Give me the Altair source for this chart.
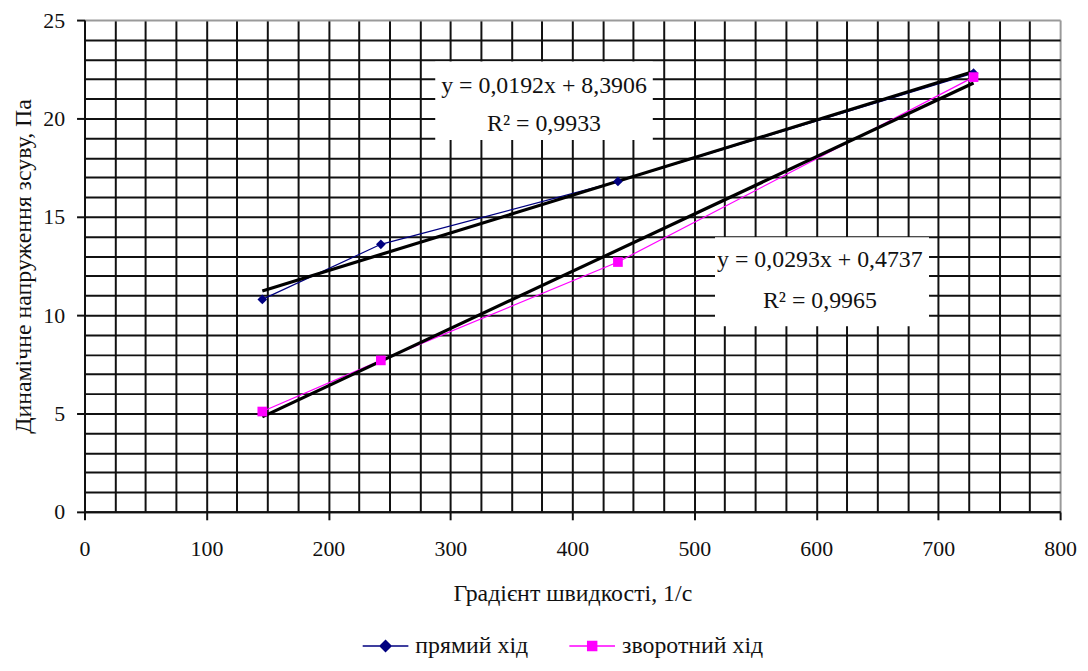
import altair as alt
import pandas as pd

# ---- data ----
x_vals = [145.8, 243.0, 437.4, 729.0]
forward_y = [10.8, 13.6, 16.8, 22.3]
reverse_y = [5.1, 7.7, 12.7, 22.1]
series_names = ["прямий хід", "зворотний хід"]
series_colors = ["#000080", "#FF00FF"]

x_ticks = list(range(0, 801, 25))
y_ticks = list(range(0, 26, 1))

eq_forward = ["y = 0,0192x + 8,3906", "R² = 0,9933"]
eq_reverse = ["y = 0,0293x + 0,4737", "R² = 0,9965"]

FONT = "Liberation Serif"

rows = []
for xv, yv in zip(x_vals, forward_y):
    rows.append({"x": xv, "y": yv, "series": series_names[0]})
for xv, yv in zip(x_vals, reverse_y):
    rows.append({"x": xv, "y": yv, "series": series_names[1]})
df = pd.DataFrame(rows)

x_axis = alt.Axis(
    values=x_ticks,
    tickCount=200,
    format="d",
    labelExpr="datum.value % 100 === 0 ? datum.label : ''",
    labelOverlap=False,
    labelFlush=False,
    tickOpacity={"condition": {"test": "datum.value % 100 === 0", "value": 1}, "value": 0},
    tickSize=8, tickWidth=2, tickColor="#111",
    grid=True,
    gridColor={"condition": {"test": "datum.value == 800", "value": "#9a9a9a"}, "value": "#111"},
    gridWidth=2,
    domainColor="#111", domainWidth=2,
    labelFont=FONT, labelFontSize=22, labelColor="#111", labelPadding=19,
    title="Градієнт швидкості, 1/с",
    titleFont=FONT, titleFontSize=24, titleFontWeight="normal", titleColor="#111",
    titlePadding=22,
)
y_axis = alt.Axis(
    values=y_ticks,
    tickCount=200,
    format="d",
    labelExpr="datum.value % 5 === 0 ? datum.label : ''",
    labelOverlap=False,
    labelFlush=False,
    tickOpacity={"condition": {"test": "datum.value % 5 === 0", "value": 1}, "value": 0},
    tickSize=8, tickWidth=2, tickColor="#111",
    grid=True,
    gridColor={"condition": {"test": "datum.value == 25", "value": "#9a9a9a"}, "value": "#111"},
    gridWidth=2,
    domainColor="#111", domainWidth=2,
    labelFont=FONT, labelFontSize=22, labelColor="#111", labelPadding=12,
    title="Динамічне напруження зсуву, Па",
    titleFont=FONT, titleFontSize=24, titleFontWeight="normal", titleColor="#111",
    titlePadding=7,
)

xs = alt.Scale(domain=[0, 800], nice=False, zero=False)
ys = alt.Scale(domain=[0, 25], nice=False, zero=False)

base = alt.Chart(df).encode(
    x=alt.X("x:Q", scale=xs, axis=x_axis),
    y=alt.Y("y:Q", scale=ys, axis=y_axis),
)

color_enc = alt.Color("series:N", scale=alt.Scale(domain=series_names, range=series_colors), legend=None)

lines = base.mark_line(strokeWidth=1.2).encode(color=color_enc)

trend = base.transform_regression("x", "y", groupby=["series"]).mark_line(
    color="black", strokeWidth=3.2
).encode(detail="series:N")

points = base.mark_point(filled=True, size=95, opacity=1).encode(
    color=color_enc,
    shape=alt.Shape("series:N", scale=alt.Scale(domain=series_names, range=["diamond", "square"]), legend=None),
)

# legend (line + marker symbols)
diamond_path = "M-2.3,0H2.3M0,-0.55L0.55,0L0,0.55L-0.55,0Z"
square_path = "M-2.3,0H2.3M-0.45,-0.45H0.45V0.45H-0.45Z"
leg = alt.Legend(
    title=None, orient="none", legendX=291, legendY=618, direction="horizontal",
    symbolSize=400, symbolOpacity=1, symbolStrokeWidth=1.5,
    labelFont=FONT, labelFontSize=24, labelColor="#111", labelOffset=18,
    columnPadding=38, padding=0,
)
legend_layer = base.mark_point(opacity=0, strokeWidth=1.5).encode(
    shape=alt.Shape("series:N", scale=alt.Scale(domain=series_names, range=[diamond_path, square_path]), legend=leg),
    fill=alt.Fill("series:N", scale=alt.Scale(domain=series_names, range=series_colors), legend=leg),
    stroke=alt.Stroke("series:N", scale=alt.Scale(domain=series_names, range=series_colors), legend=leg),
)

def box(x1, x2, y1, y2):
    return alt.Chart(pd.DataFrame({"k": [0]})).mark_rect(color="white").encode(
        x=alt.datum(x1), x2=alt.datum(x2), y=alt.datum(y1), y2=alt.datum(y2)
    )

def label(text, xv, yv):
    return alt.Chart(pd.DataFrame({"t": [text]})).mark_text(
        font=FONT, fontSize=24, color="#111", align="center", baseline="middle"
    ).encode(x=alt.datum(xv), y=alt.datum(yv), text="t:N")

annotations = [
    box(287.6, 466.0, 22.9, 18.9),
    label(eq_forward[0], 376.8, 21.64),
    label(eq_forward[1], 376.8, 19.73),
    box(517.0, 692.5, 13.96, 9.44),
    label(eq_reverse[0], 603.0, 12.8),
    label(eq_reverse[1], 603.0, 10.7),
]

chart = alt.layer(
    *annotations, lines, trend, points, legend_layer
).resolve_scale(
    shape="independent", fill="independent", stroke="independent"
).properties(
    width=982, height=495,
    autosize=alt.AutoSizeParams(type="none"),
    padding={"left": 77, "top": 10, "right": 20, "bottom": 153},
    background="white",
).configure_view(stroke="transparent")

chart.save("out.html", embed_options={"renderer": "svg", "actions": False})
